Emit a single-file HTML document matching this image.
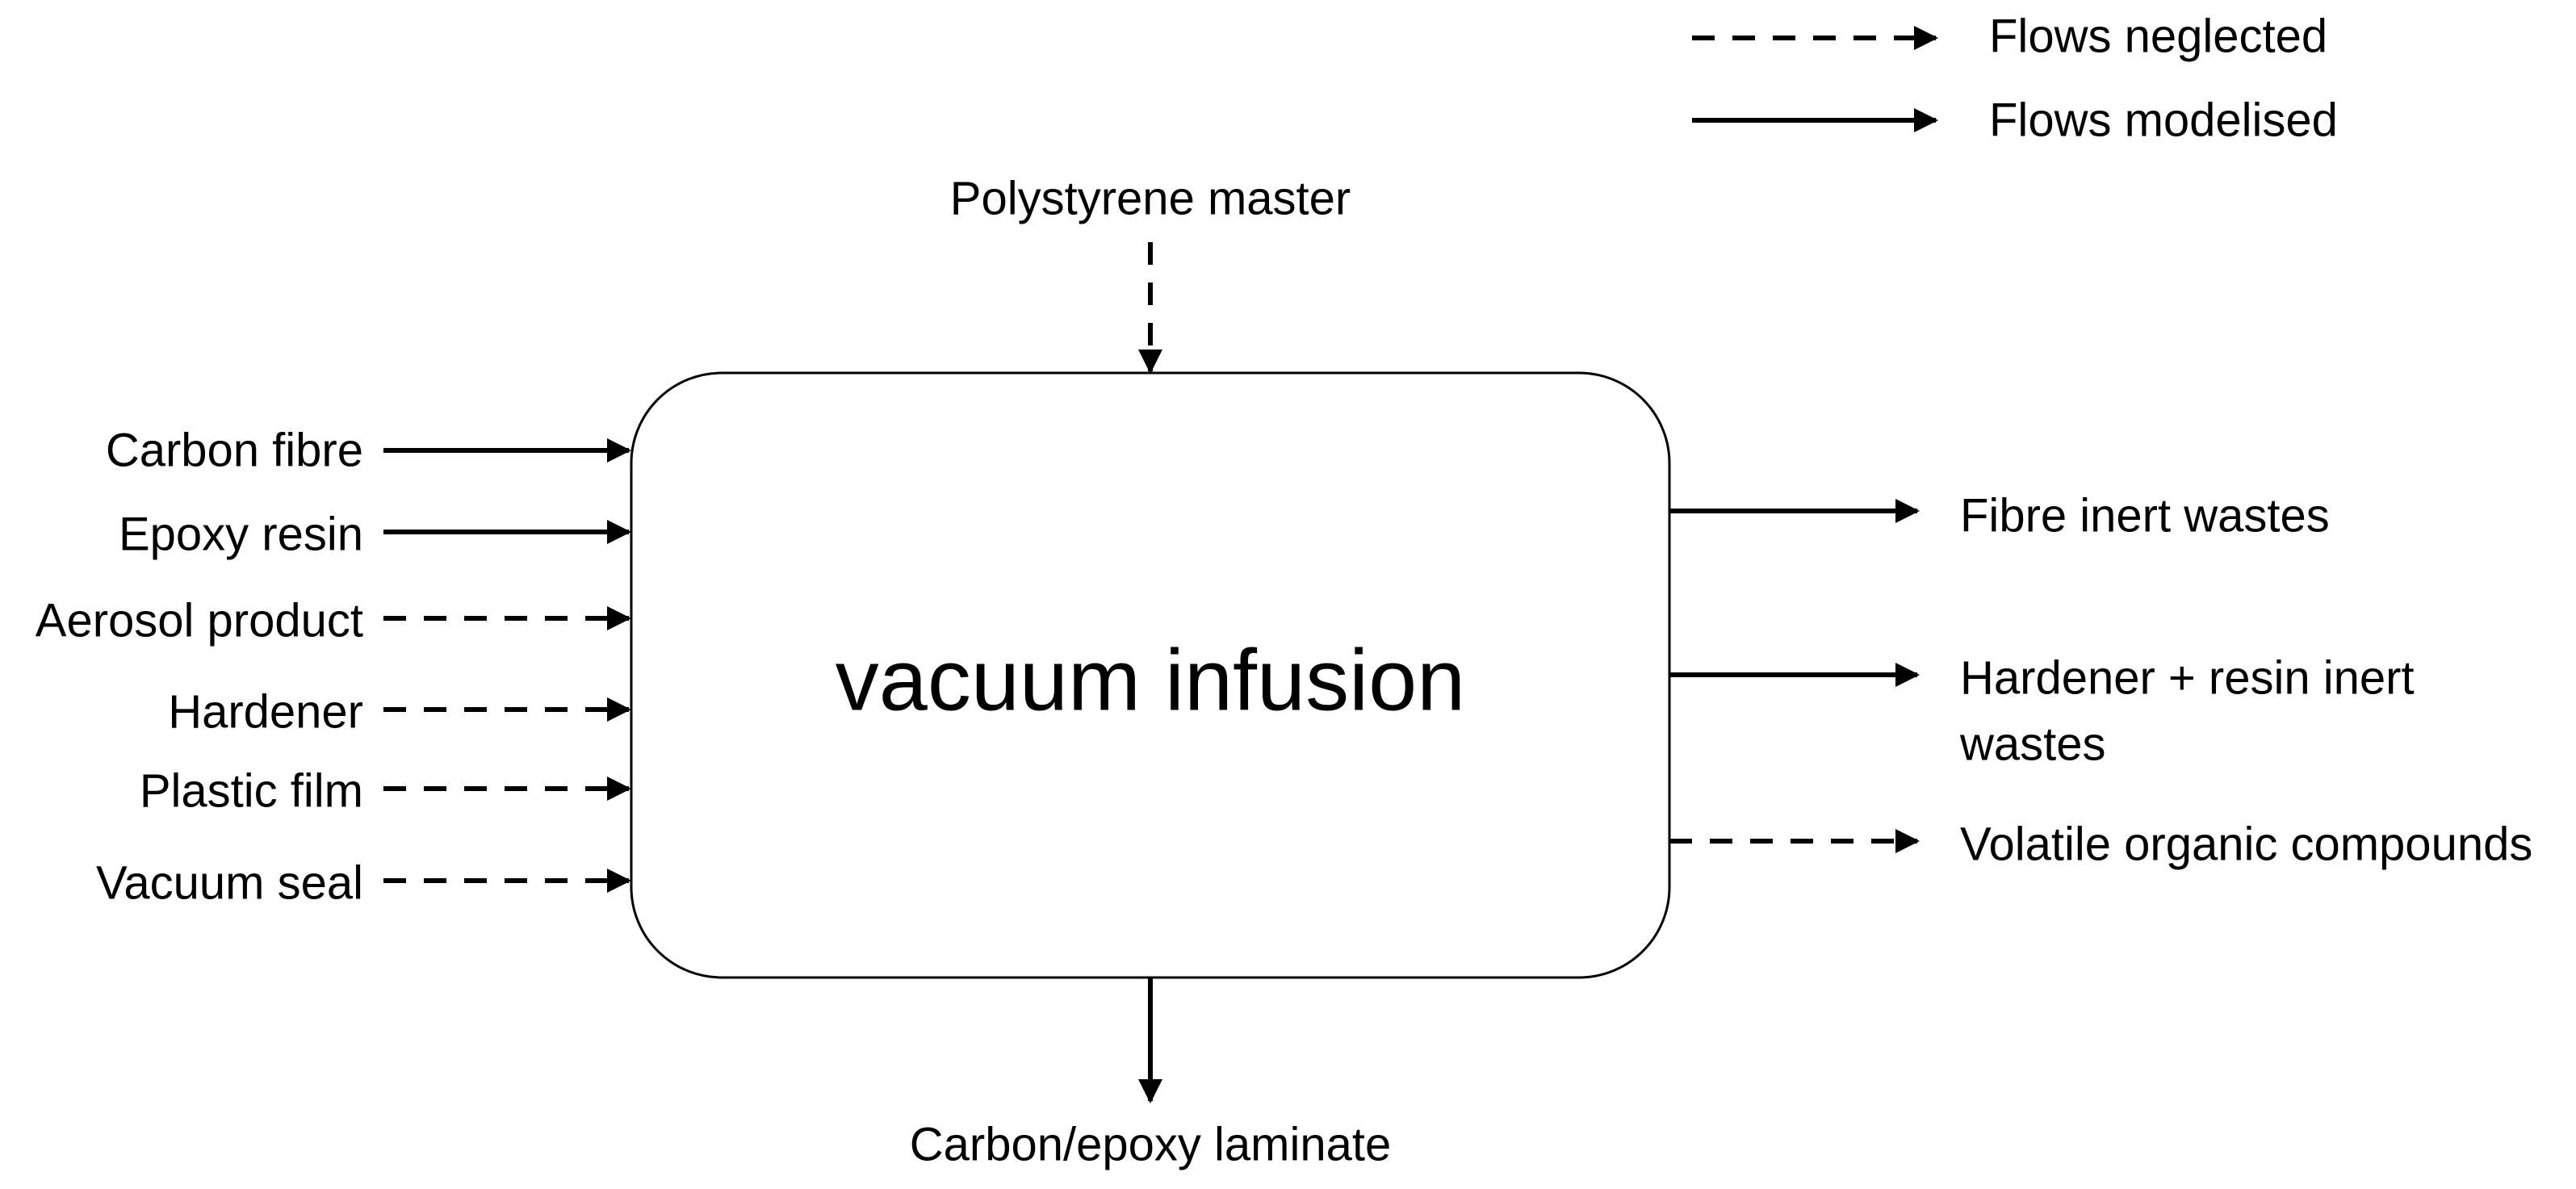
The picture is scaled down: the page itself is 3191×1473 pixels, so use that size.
<!DOCTYPE html>
<html><head><meta charset="utf-8"><style>
html,body{margin:0;padding:0;background:#fff;}
svg{display:block;}
text{font-family:"Liberation Sans",Arial,sans-serif;fill:#000;dominant-baseline:central;}
</style></head><body>
<svg width="3191" height="1473" viewBox="0 0 3191 1473" xmlns="http://www.w3.org/2000/svg">
<defs>
<marker id="ah" markerWidth="5" markerHeight="5" refX="4.5" refY="2.5" orient="auto" markerUnits="strokeWidth">
<path d="M0,0 L5,2.5 L0,5 Z" fill="#000"/>
</marker>
</defs>
<g stroke="#000" stroke-width="6" fill="none">
<!-- legend -->
<line x1="2096" y1="47" x2="2398" y2="47" stroke-dasharray="28,22" marker-end="url(#ah)"/>
<line x1="2096" y1="149" x2="2398" y2="149" marker-end="url(#ah)"/>
<!-- left inputs -->
<line x1="475" y1="558" x2="779" y2="558" marker-end="url(#ah)"/>
<line x1="475" y1="659" x2="779" y2="659" marker-end="url(#ah)"/>
<line x1="475" y1="766" x2="779" y2="766" stroke-dasharray="28,22" marker-end="url(#ah)"/>
<line x1="475" y1="879" x2="779" y2="879" stroke-dasharray="28,22" marker-end="url(#ah)"/>
<line x1="475" y1="977" x2="779" y2="977" stroke-dasharray="28,22" marker-end="url(#ah)"/>
<line x1="475" y1="1091" x2="779" y2="1091" stroke-dasharray="28,22" marker-end="url(#ah)"/>
<!-- top -->
<line x1="1425" y1="300" x2="1425" y2="460" stroke-dasharray="28,22" marker-end="url(#ah)"/>
<!-- bottom -->
<line x1="1425" y1="1211" x2="1425" y2="1364" marker-end="url(#ah)"/>
<!-- right outputs -->
<line x1="2068" y1="633" x2="2375" y2="633" marker-end="url(#ah)"/>
<line x1="2068" y1="836" x2="2375" y2="836" marker-end="url(#ah)"/>
<line x1="2068" y1="1042" x2="2375" y2="1042" stroke-dasharray="28,22" marker-end="url(#ah)"/>
</g>
<rect x="782" y="462" width="1286" height="749" rx="112" ry="112" fill="#fff" stroke="#000" stroke-width="3"/>
<text x="1425" y="842" font-size="108" text-anchor="middle">vacuum infusion</text>
<g font-size="58">
<text x="2464" y="45">Flows neglected</text>
<text x="2464" y="149">Flows modelised</text>
<text x="1425" y="246" text-anchor="middle">Polystyrene master</text>
<text x="1425" y="1418" text-anchor="middle">Carbon/epoxy laminate</text>
<text x="450" y="558" text-anchor="end">Carbon fibre</text>
<text x="450" y="662" text-anchor="end">Epoxy resin</text>
<text x="450" y="769" text-anchor="end">Aerosol product</text>
<text x="450" y="882" text-anchor="end">Hardener</text>
<text x="450" y="980" text-anchor="end">Plastic film</text>
<text x="450" y="1094" text-anchor="end">Vacuum seal</text>
<text x="2428" y="639">Fibre inert wastes</text>
<text x="2428" y="840">Hardener + resin inert</text>
<text x="2428" y="922">wastes</text>
<text x="2428" y="1046">Volatile organic compounds</text>
</g>
</svg>
</body></html>
